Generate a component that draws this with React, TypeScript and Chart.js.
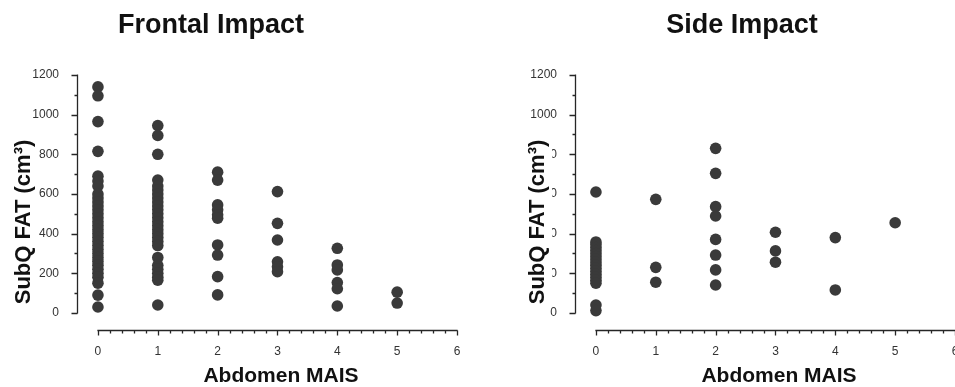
import React, { useEffect, useRef } from 'react';
import { Chart, registerables } from 'chart.js';

Chart.register(...registerables);

// ---------- data ----------
const xTickValues = [0, 1, 2, 3, 4, 5, 6];
const xTickLabels = ['0', '1', '2', '3', '4', '5', '6'];
const yTickValues = [0, 200, 400, 600, 800, 1000, 1200];
const yTickLabels = ['0', '200', '400', '600', '800', '1000', '1200'];

const chartTitles = ['Frontal Impact', 'Side Impact'];
const xAxisTitle = 'Abdomen MAIS';
const yAxisTitle = 'SubQ FAT (cm\u00B3)';

// Frontal impact: SubQ fat volume by abdomen MAIS
const frontalMais0 = [1140, 1095, 965, 815, 690, 665, 640, 600, 580, 560, 540, 520, 500, 480, 460, 440, 420, 400, 380, 360, 340, 320, 300, 280, 260, 240, 220, 200, 180, 150, 90, 30];
const frontalMais1 = [945, 895, 800, 670, 640, 620, 600, 580, 560, 540, 520, 500, 480, 460, 440, 420, 400, 380, 360, 340, 280, 240, 220, 200, 180, 165, 40];
const frontalMais2 = [710, 670, 545, 520, 495, 478, 343, 292, 183, 91];
const frontalMais3 = [612, 452, 368, 258, 233, 208];
const frontalMais4 = [326, 242, 217, 153, 122, 35];
const frontalMais5 = [105, 50];

// Side impact
const sideMais0 = [610, 358, 345, 330, 315, 300, 285, 270, 255, 240, 225, 210, 195, 180, 165, 150, 40, 12];
const sideMais1 = [573, 230, 155];
const sideMais2 = [830, 704, 536, 489, 371, 292, 217, 141];
const sideMais3 = [407, 313, 256];
const sideMais4 = [380, 116];
const sideMais5 = [455];

const frontalGroups = [frontalMais0, frontalMais1, frontalMais2, frontalMais3, frontalMais4, frontalMais5];
const sideGroups = [sideMais0, sideMais1, sideMais2, sideMais3, sideMais4, sideMais5];

// ---------- styling / layout ----------
const FONT = '"Liberation Sans", Arial, Helvetica, sans-serif';
const DOT = '#3a3a3a';
const AXIS = '#262626';
const X_MIN = -0.35;
const X_MAX = 6;
const Y_MIN = -91;
const Y_MAX = 1200;
const X_MINOR_PER_UNIT = 5;

const decorPlugin = {
  id: 'decor',
  afterDraw(chart: any) {
    const cfg = chart.options.plugins.decor;
    const { ctx, chartArea } = chart;
    const xs = chart.scales.x;
    const ys = chart.scales.y;
    ctx.save();
    ctx.strokeStyle = AXIS;
    ctx.lineWidth = 1.3;
    // y axis
    const ax = Math.round(chartArea.left) + 0.5;
    ctx.beginPath();
    ctx.moveTo(ax, ys.getPixelForValue(yTickValues[0]) + 0.6);
    ctx.lineTo(ax, ys.getPixelForValue(yTickValues[yTickValues.length - 1]) - 0.6);
    for (const v of yTickValues) {
      const p = Math.round(ys.getPixelForValue(v)) + 0.5;
      ctx.moveTo(ax - 6, p);
      ctx.lineTo(ax, p);
    }
    for (let i = 0; i < yTickValues.length - 1; i++) {
      const p = Math.round(ys.getPixelForValue((yTickValues[i] + yTickValues[i + 1]) / 2)) + 0.5;
      ctx.moveTo(ax - 3, p);
      ctx.lineTo(ax, p);
    }
    ctx.stroke();
    // x axis
    const ay = Math.round(chartArea.bottom) - 0.5;
    ctx.beginPath();
    ctx.moveTo(xs.getPixelForValue(xTickValues[0]) - 0.6, ay);
    ctx.lineTo(xs.getPixelForValue(xTickValues[xTickValues.length - 1]) + 0.6, ay);
    for (const v of xTickValues) {
      const p = Math.round(xs.getPixelForValue(v)) + 0.5;
      ctx.moveTo(p, ay);
      ctx.lineTo(p, ay + 5);
    }
    for (let i = 0; i < xTickValues.length - 1; i++) {
      for (let k = 1; k < X_MINOR_PER_UNIT; k++) {
        const v = xTickValues[i] + (k * (xTickValues[i + 1] - xTickValues[i])) / X_MINOR_PER_UNIT;
        const p = Math.round(xs.getPixelForValue(v)) + 0.5;
        ctx.moveTo(p, ay);
        ctx.lineTo(p, ay + 3);
      }
    }
    ctx.stroke();

    // chart title
    ctx.fillStyle = '#111';
    ctx.font = `bold 27px ${FONT}`;
    ctx.textAlign = 'center';
    ctx.textBaseline = 'alphabetic';
    ctx.fillText(cfg.title, cfg.titleX, 33);

    // x title
    ctx.font = `bold 21px ${FONT}`;
    ctx.fillText(xAxisTitle, cfg.xTitleX, 382);

    // y title (with white backing, as in the reference)
    ctx.font = `bold 22px ${FONT}`;
    const w = ctx.measureText(yAxisTitle).width;
    ctx.fillStyle = '#fff';
    ctx.fillRect(cfg.yTitleX - 12, cfg.yTitleY - w / 2 - 2, 12 + cfg.maskRight, w + 4);
    ctx.translate(cfg.yTitleX, cfg.yTitleY);
    ctx.rotate(-Math.PI / 2);
    ctx.fillStyle = '#111';
    ctx.textBaseline = 'middle';
    ctx.fillText(yAxisTitle, 0, 0);
    ctx.restore();
  },
};

type PanelProps = {
  left: number;
  title: string;
  titleX: number;
  yTitleX: number;
  maskRight: number;
  groups: number[][];
};

function Panel({ left, title, titleX, yTitleX, maskRight, groups }: PanelProps) {
  const ref = useRef<HTMLCanvasElement | null>(null);
  useEffect(() => {
    if (!ref.current) return;
    const points: { x: number; y: number }[] = [];
    groups.forEach((vals, mais) => vals.forEach((v) => points.push({ x: mais, y: v })));
    const chart = new Chart(ref.current, {
      type: 'scatter',
      data: {
        datasets: [
          {
            data: points,
            backgroundColor: DOT,
            borderWidth: 0,
            pointRadius: 5.8,
            pointHoverRadius: 5.8,
          },
        ],
      },
      options: {
        animation: false,
        responsive: false,
        devicePixelRatio: 1,
        events: [],
        layout: { padding: { top: 75, right: 43, left: 0, bottom: 0 } },
        plugins: {
          legend: { display: false },
          tooltip: { enabled: false },
          title: { display: false },
          decor: { title, titleX, yTitleX, maskRight, yTitleY: 222, xTitleX: 281 },
        } as any,
        scales: {
          x: {
            type: 'linear',
            min: X_MIN,
            max: X_MAX,
            grid: { display: false },
            border: { display: false },
            afterBuildTicks: (s: any) => {
              s.ticks = xTickValues.map((v) => ({ value: v }));
            },
            afterFit: (s: any) => {
              s.height = 56;
            },
            ticks: {
              autoSkip: false,
              maxRotation: 0,
              padding: 5,
              color: '#333',
              font: { family: FONT, size: 12 },
              callback: (v: any) => xTickLabels[xTickValues.indexOf(Number(v))] ?? '',
            },
          },
          y: {
            type: 'linear',
            min: Y_MIN,
            max: Y_MAX,
            grid: { display: false },
            border: { display: false },
            afterBuildTicks: (s: any) => {
              s.ticks = yTickValues.map((v) => ({ value: v }));
            },
            afterFit: (s: any) => {
              s.width = 77;
            },
            ticks: {
              autoSkip: false,
              padding: 10,
              color: '#333',
              font: { family: FONT, size: 12 },
              callback: (v: any) => yTickLabels[yTickValues.indexOf(Number(v))] ?? '',
            },
          },
        },
      },
      plugins: [decorPlugin],
    });
    return () => chart.destroy();
  }, [title, titleX, yTitleX, maskRight, groups]);
  return (
    <canvas
      ref={ref}
      width={500}
      height={387}
      style={{ position: 'absolute', left, top: 0, width: 500, height: 387 }}
    />
  );
}

export default function App() {
  return (
    <div
      style={{
        position: 'fixed',
        left: 0,
        top: 0,
        width: 955,
        height: 387,
        overflow: 'hidden',
        background: '#fff',
      }}
    >
      <Panel left={0} title={chartTitles[0]} titleX={211} yTitleX={24} maskRight={11} groups={frontalGroups} />
      <Panel left={498} title={chartTitles[1]} titleX={244} yTitleX={40} maskRight={14} groups={sideGroups} />
    </div>
  );
}
